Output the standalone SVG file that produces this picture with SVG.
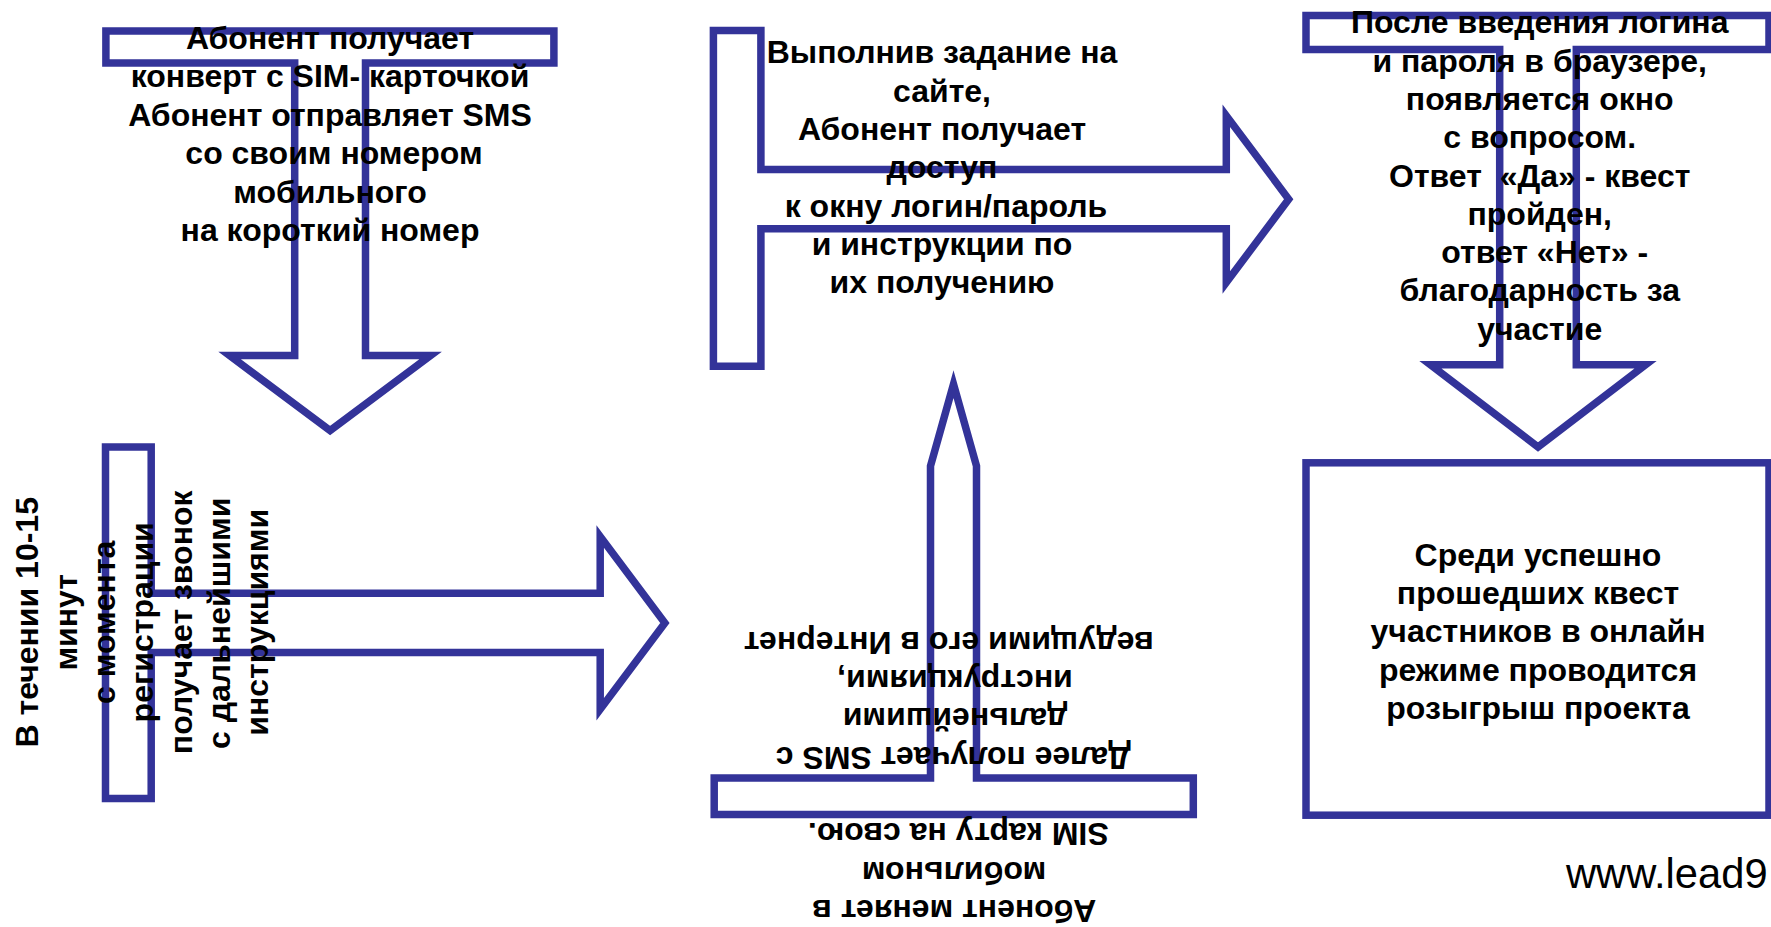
<svg xmlns="http://www.w3.org/2000/svg" width="1771" height="927" viewBox="0 0 1771 927">
<style>
.shape{fill:none;stroke:#333399;stroke-width:7.5;stroke-linejoin:miter;stroke-miterlimit:10}
.t{font-family:"Liberation Sans",Arial,sans-serif;font-weight:bold;font-size:32px;fill:#000;text-anchor:middle}
.url{font-family:"Liberation Sans",Arial,sans-serif;font-size:41.7px;fill:#000}
</style>
<rect width="1771" height="927" fill="#ffffff"/>
<g id="connectors"></g>
<g id="node-sim">
<polygon class="shape" points="105.9,31 553.9,31 553.9,63 365.5,63 365.5,355.5 430.6,355.5 330.1,430.6 229.6,355.5 294.7,355.5 294.7,63 105.9,63"/>
<text class="t" x="330" y="49">Абонент получает</text>
<text class="t" x="330" y="87.3">конверт с SIM- карточкой</text>
<text class="t" x="330" y="126">Абонент отправляет SMS</text>
<text class="t" x="334" y="164.3">со своим номером</text>
<text class="t" x="330" y="202.6">мобильного</text>
<text class="t" x="330" y="240.9">на короткий номер</text>
</g>
<g id="node-access">
<polygon class="shape" points="713.4,30.4 760.9,30.4 760.9,169.5 1226.3,169.5 1226.3,115.8 1288.7,199.15 1226.3,282.5 1226.3,228.8 760.9,228.8 760.9,366.3 713.4,366.3"/>
<text class="t" x="942" y="63.3">Выполнив задание на</text>
<text class="t" x="942" y="101.6">сайте,</text>
<text class="t" x="942" y="139.9">Абонент получает</text>
<text class="t" x="942" y="178.2">доступ</text>
<text class="t" x="946" y="216.5">к окну логин/пароль</text>
<text class="t" x="942" y="254.8">и инструкции по</text>
<text class="t" x="942" y="293.1">их получению</text>
</g>
<g id="node-login">
<polygon class="shape" points="1306,15.4 1769,15.4 1769,49.6 1576.3,49.6 1576.3,364.7 1645.6,364.7 1538,447 1430.4,364.7 1499.7,364.7 1499.7,49.6 1306,49.6"/>
<text class="t" x="1539.7" y="33.3">После введения логина</text>
<text class="t" x="1539.7" y="71.6">и пароля в браузере,</text>
<text class="t" x="1539.7" y="109.9">появляется окно</text>
<text class="t" x="1539.7" y="148.2">с вопросом.</text>
<text class="t" x="1539.7" y="186.5" xml:space="preserve">Ответ  «Да» - квест</text>
<text class="t" x="1539.7" y="224.8">пройден,</text>
<text class="t" x="1544.7" y="263.1">ответ «Нет» -</text>
<text class="t" x="1539.7" y="301.4">благодарность за</text>
<text class="t" x="1539.7" y="339.7">участие</text>
</g>
<g id="node-call">
<polygon class="shape" points="105.5,447.1 151.2,447.1 151.2,593.3 600.2,593.3 600.2,536.5 664.9,622.9 600.2,709.3 600.2,652.5 151.2,652.5 151.2,798.6 105.5,798.6"/>
<g transform="translate(0,622.3) rotate(-90)">
<text class="t" x="0" y="38.3">В течении 10-15</text>
<text class="t" x="0" y="76.6">минут</text>
<text class="t" x="0" y="114.9">с момента</text>
<text class="t" x="0" y="153.2">регистрации</text>
<text class="t" x="0" y="191.5">получает звонок</text>
<text class="t" x="-1" y="229.8">с дальнейшими</text>
<text class="t" x="0" y="268.1">инструкциями</text>
</g>
</g>
<g id="node-sms">
<polygon class="shape" points="714.2,778 930.5,778 930.5,466 953.5,384.2 976.5,466 976.5,778 1193.3,778 1193.3,814.5 714.2,814.5"/>
<g transform="rotate(180)">
<text class="t" x="-948.7" y="-631.7">ведущими его в Интернет</text>
<text class="t" x="-955" y="-670">инструкциями,</text>
<text class="t" x="-955" y="-708.3">дальнейшими</text>
<text class="t" x="-953.3" y="-746.6">Далее получает SMS с</text>
<text class="t" x="-958.3" y="-823.2">SIM карту на свою.</text>
<text class="t" x="-954" y="-861.5">мобильном</text>
<text class="t" x="-954.2" y="-899.8">Абонент меняет в</text>
</g>
</g>
<g id="node-draw">
<rect class="shape" x="1306" y="462.8" width="463" height="352.4"/>
<text class="t" x="1538" y="566">Среди успешно</text>
<text class="t" x="1538" y="604.2">прошедших квест</text>
<text class="t" x="1538" y="642.4">участников в онлайн</text>
<text class="t" x="1538" y="680.6">режиме проводится</text>
<text class="t" x="1538" y="718.8">розыгрыш проекта</text>
</g>
<g id="footer">
<text class="url" x="1566" y="888.3">www.lead9</text>
</g>
</svg>
